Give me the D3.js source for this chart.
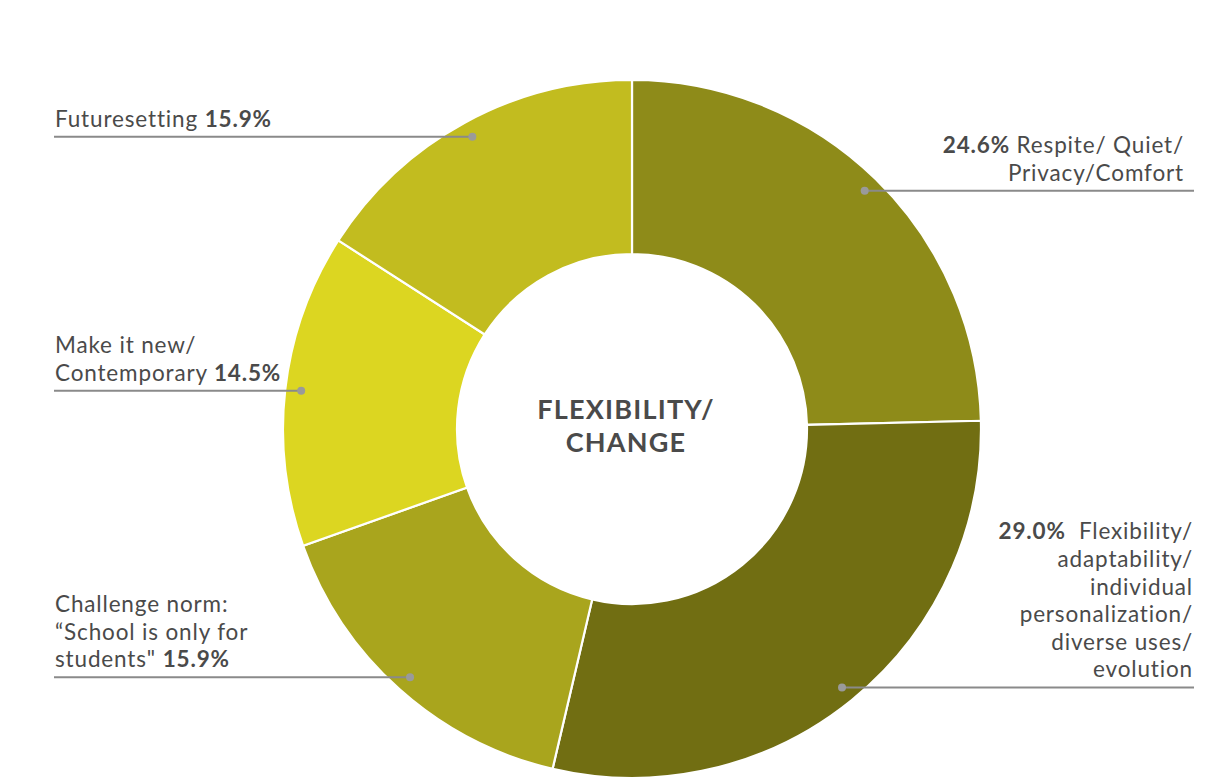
<!DOCTYPE html>
<html><head><meta charset="utf-8">
<script src="https://cdn.jsdelivr.net/npm/d3@7"></script>
<style>body{margin:0;background:#fff;} svg{display:block;} text{font-family:"Lato",sans-serif;fill:#4a4a4a;}</style>
</head><body>
<svg id="c" width="1211" height="781"></svg>
<script>
const categories = ["Respite/ Quiet/ Privacy/Comfort","Flexibility/ adaptability/ individual personalization/ diverse uses/ evolution","Challenge norm: “School is only for students\"","Make it new/ Contemporary","Futuresetting"];
const values = [24.6, 29.0, 15.9, 14.5, 15.9];
const colors = ["#8E8B19","#716E12","#A9A51D","#DCD621","#C2BC1F"];
// label lines: arrays of [text, bold] segments
const labelLines = [
  [[["24.6%",true],[" Respite/ Quiet/",false]],[["Privacy/Comfort",false]]],
  [[["29.0%",true],["  Flexibility/",false]],[["adaptability/",false]],[["individual",false]],[["personalization/",false]],[["diverse uses/",false]],[["evolution",false]]],
  [[["Challenge norm:",false]],[["“School is only for",false]],[["students\" ",false],["15.9%",true]]],
  [[["Make it new/",false]],[["Contemporary ",false],["14.5%",true]]],
  [[["Futuresetting ",false],["15.9%",true]]]
];
const centerTitle = ["FLEXIBILITY/","CHANGE"];

const svg = d3.select("#c");
const cx = 632, cy = 429, R = 349, r0 = 175, rDot = 333;
const g = svg.append("g").attr("transform",`translate(${cx},${cy})`);
const pie = d3.pie().sort(null).value(d=>d);
const arcs = pie(values);
const arc = d3.arc().innerRadius(r0).outerRadius(R);
g.selectAll("path").data(arcs).join("path")
  .attr("d",arc).attr("fill",(d,i)=>colors[i])
  .attr("stroke","#fff").attr("stroke-width",2.2);

const lineH = 27.6;
arcs.forEach((a,i)=>{
  const mid = (a.startAngle+a.endAngle)/2;
  const dx = cx + rDot*Math.sin(mid), dy = cy - rDot*Math.cos(mid);
  const right = Math.sin(mid) > 0;
  const x2 = right ? 1194 : 54;
  svg.append("line").attr("x1",dx).attr("y1",dy).attr("x2",x2).attr("y2",dy)
    .attr("stroke","#8a8a8a").attr("stroke-width",2);
  svg.append("circle").attr("cx",dx).attr("cy",dy).attr("r",4).attr("fill","#9a9a9a");
  const lines = labelLines[i];
  const n = lines.length;
  const tx = right ? (i===0?1184:1193) : 55;
  lines.forEach((segs,k)=>{
    const t = svg.append("text").attr("x",tx).attr("y",dy - 10 - (n-1-k)*lineH)
      .attr("text-anchor", right?"end":"start").attr("font-size",22.5)
      .attr("letter-spacing",0.85);
    segs.forEach(s=>{
      t.append("tspan").text(s[0]).attr("font-weight",s[1]?700:400).style("white-space","pre");
    });
  });
});
const ct = svg.append("g").attr("transform",`translate(${cx-6},${cy})`);
centerTitle.forEach((s,k)=>{
  ct.append("text").attr("x",0).attr("y",-10 + k*33).attr("text-anchor","middle")
    .attr("font-size",27).attr("font-weight",700).attr("letter-spacing",1.2).text(s);
});
</script>
</body></html>
